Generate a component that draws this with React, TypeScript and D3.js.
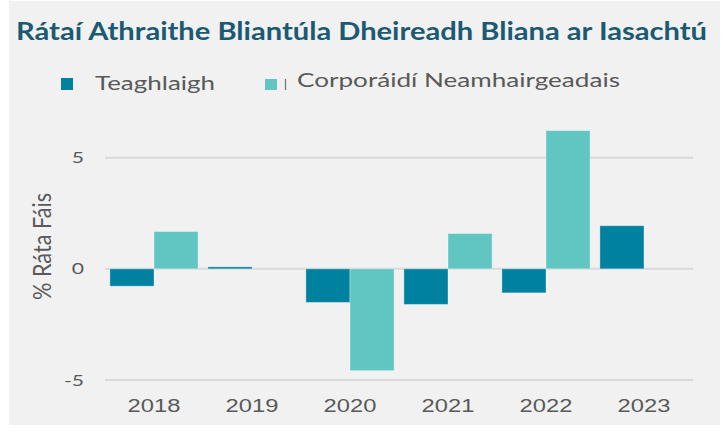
import React from "react";
import * as d3 from "d3";

const years = ["2018", "2019", "2020", "2021", "2022", "2023"];
const households = [-0.78, 0.09, -1.51, -1.6, -1.08, 1.94];
const corporates = [1.68, 0, -4.58, 1.59, 6.22, 0];
const seriesNames = ["Teaghlaigh", "Corporáidí Neamhairgeadais"];
const yTicks = [-5, 0, 5];
const title = "Rátaí Athraithe Bliantúla Dheireadh Bliana ar Iasachtú";
const yTitle = "% Ráta Fáis";

const W = 723;
const H = 432;
const colors = ["#0081A0", "#61C6C2"];
const SX = 1.32;

export default function App() {
  const x = d3.scaleBand<string>().domain(years).range([105, 693]).paddingInner(0.1).paddingOuter(0.05);
  const sub = d3.scaleBand<number>().domain([0, 1]).range([0, x.bandwidth()]);
  const y = d3.scaleLinear().domain([-5, 5]).range([380, 157.7]);
  const series = [households, corporates];

  return (
    <svg width={W} height={H} style={{ position: "absolute", left: 0, top: 0, background: "#ffffff" }}>
      <rect x={9} y={1} width={711} height={424} fill="#F1F1F1" />
      <text x={16} y={40} fontFamily="Lato" fontWeight={700} fontSize={24} fill="#1B5A72" textLength={691} lengthAdjust="spacingAndGlyphs">{title}</text>
      {/* legend */}
      <rect x={61} y={78} width={12} height={12} fill={colors[0]} />
      <text x={95} y={90} fontFamily="Lato" fontSize={19.5} fill="#595959" textLength={120} lengthAdjust="spacingAndGlyphs">{seriesNames[0]}</text>
      <rect x={265} y={79} width={12} height={11} fill={colors[1]} />
      <line x1={285.5} x2={285.5} y1={79} y2={90} stroke="#777" strokeWidth={1.3} />
      <text x={297} y={87} fontFamily="Lato" fontSize={19.5} fill="#595959" textLength={323} lengthAdjust="spacingAndGlyphs">{seriesNames[1]}</text>
      {/* grid */}
      {yTicks.map((t) => (
        <g key={t}>
          <line x1={105} x2={693} y1={y(t)} y2={y(t)} stroke="#D9D9D9" strokeWidth={2} />
          <text transform={`translate(84,${y(t) + 5.5}) scale(${SX},1)`} textAnchor="end" fontFamily="Lato" fontSize={16} fill="#595959">{t}</text>
        </g>
      ))}
      {/* bars */}
      {years.map((yr, i) => (
        <g key={yr}>
          {series.map((s, j) =>
            s[i] === 0 ? null : (
              <rect
                key={j}
                x={(x(yr) as number) + (sub(j) as number)}
                y={y(Math.max(0, s[i]))}
                width={sub.bandwidth()}
                height={Math.abs(y(s[i]) - y(0))}
                fill={colors[j]}
                stroke="#ffffff"
                strokeOpacity={0.35}
                strokeWidth={1}
              />
            )
          )}
          <text transform={`translate(${(x(yr) as number) + x.bandwidth() / 2},411.5) scale(${SX},1)`} textAnchor="middle" fontFamily="Liberation Sans" fontSize={18} fill="#595959">{yr}</text>
        </g>
      ))}
      <text transform={`translate(51,246.5) scale(${SX},1) rotate(-90)`} textAnchor="middle" fontFamily="Lato" fontSize={19} fill="#595959" textLength={107} lengthAdjust="spacingAndGlyphs">{yTitle}</text>
    </svg>
  );
}
